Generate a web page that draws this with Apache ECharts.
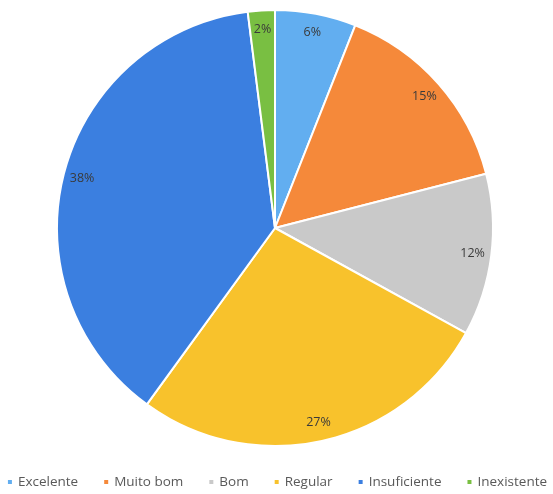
<!DOCTYPE html>
<html>
<head>
<meta charset="utf-8">
<script src="https://cdn.jsdelivr.net/npm/echarts@6/dist/echarts.min.js"></script>
<style>
  html, body { margin: 0; padding: 0; background: #fff; }
  #chart { width: 553px; height: 494px; }
</style>
</head>
<body>
<div id="chart"></div>
<script>
// Rating categories and their share (%)
const categories = ['Excelente', 'Muito bom', 'Bom', 'Regular', 'Insuficiente', 'Inexistente'];
const values = [6, 15, 12, 27, 38, 2];
const colors = ['#62aef0', '#f5893a', '#c9c9c9', '#f8c22c', '#3b7fe0', '#79bf42'];

const data = categories.map((name, i) => ({ name, value: values[i] }));

const chart = echarts.init(document.getElementById('chart'));
const center = [275, 228];
const R = 218;

chart.setOption({
  animation: false,
  color: colors,
  legend: {
    bottom: 0,
    left: 'center',
    itemWidth: 6,
    itemHeight: 6,
    itemGap: 24,
    icon: 'rect',
    textStyle: { color: '#595959', fontSize: 13.5, fontFamily: 'Open Sans, Liberation Sans, sans-serif' },
    data: categories
  },
  series: [
    {
      type: 'pie',
      center: center,
      radius: [0, R],
      startAngle: 90,
      clockwise: true,
      label: { show: false },
      labelLine: { show: false },
      itemStyle: { borderColor: '#fff', borderWidth: 2 },
      emphasis: { disabled: true },
      data: data
    },
    {
      // transparent ring that carries the percentage labels near the rim
      type: 'pie',
      center: center,
      radius: [R * 0.8, R],
      startAngle: 90,
      clockwise: true,
      silent: true,
      itemStyle: { color: 'transparent' },
      label: {
        show: true,
        position: 'inside',
        formatter: '{c}%',
        color: '#3a3a3a',
        fontSize: 12.5,
        fontFamily: 'Open Sans, Liberation Sans, sans-serif'
      },
      labelLine: { show: false },
      emphasis: { disabled: true },
      data: data
    }
  ]
});
</script>
</body>
</html>
